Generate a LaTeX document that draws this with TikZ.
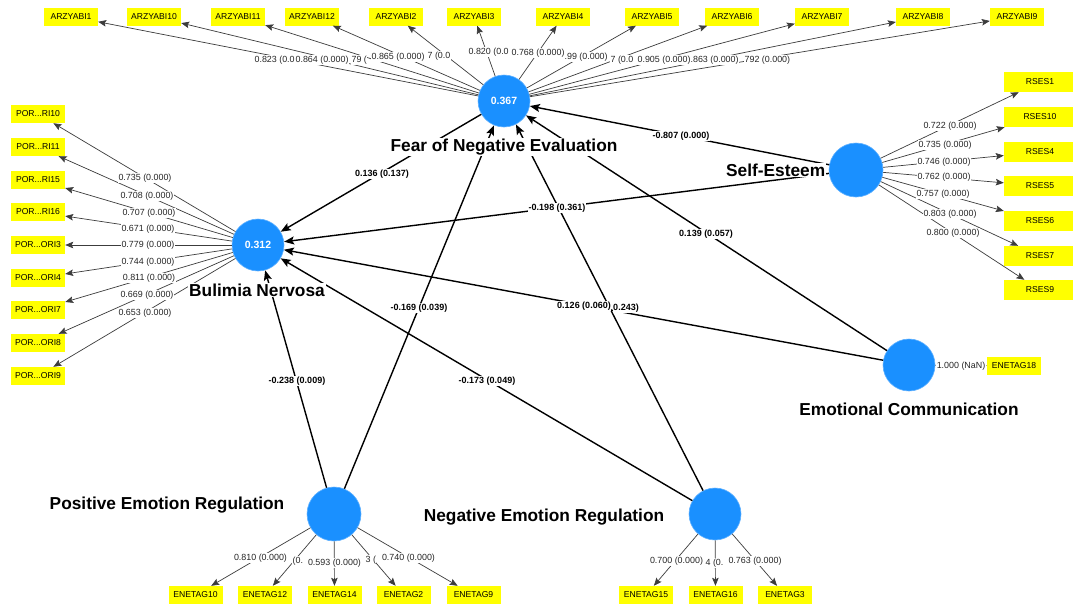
\documentclass[tikz,border=0pt]{standalone}
\usepackage{fontspec}
\setmainfont{Liberation Sans}
\usetikzlibrary{arrows.meta}
\definecolor{lvblue}{RGB}{26,144,255}
\definecolor{lgray}{RGB}{60,60,60}
\definecolor{boxyellow}{RGB}{255,255,0}
\begin{document}
\begin{tikzpicture}[x=1pt,y=-1pt,
  lv/.style={circle, fill=lvblue, draw=lvblue!70!white, line width=0.6pt, minimum size=52pt, inner sep=0pt, text=white, font=\bfseries\fontsize{10.5}{11}\selectfont},
  ind/.style={rectangle, fill=boxyellow, minimum width=54pt, minimum height=18pt, inner sep=0pt, font=\fontsize{8.6}{9}\selectfont},
  ld/.style={draw=lgray, line width=0.7pt, -{Stealth[length=8pt,width=6.5pt,inset=1.5pt]}},
  sp/.style={draw=black, line width=1.4pt, -{Stealth[length=10pt,width=8pt,inset=2pt]}},
  wl/.style={fill=white, inner sep=0.4pt, text=black!85, font=\fontsize{8.9}{9}\selectfont},
  sl/.style={fill=white, inner sep=0.6pt, font=\bfseries\fontsize{9}{9}\selectfont},
  lvname/.style={fill=white, inner sep=1pt, font=\bfseries\fontsize{17.3}{17.5}\selectfont}]
\useasboundingbox (0,0) rectangle (1073,608);
\fill[white] (0,0) rectangle (1073,608);

% latent variables
\node[lv] (fne) at (504,101) {0.367};
\node[lv] (bn) at (258,245) {0.312};
\node[lv, minimum size=54pt] (se) at (856,170) {};
\node[lv] (ec) at (909,365) {};
\node[lv, minimum size=54pt] (per) at (334,514) {};
\node[lv] (ner) at (715,514) {};

% indicators: ARZYABI
\foreach \n/\x/\t in {a1/71/ARZYABI1, a10/154/ARZYABI10, a11/238/ARZYABI11, a12/312/ARZYABI12,
  a2/396/ARZYABI2, a3/474/ARZYABI3, a4/563/ARZYABI4, a5/652/ARZYABI5, a6/732/ARZYABI6,
  a7/822/ARZYABI7, a8/923/ARZYABI8, a9/1017/ARZYABI9}
  {\node[ind] (\n) at (\x,16.5) {\t};
   \draw[ld] (fne) -- (\n);}

% indicators: POR
\foreach \n/\y/\t in {p10/114/POR.{}..RI10, p11/147/POR.{}..RI11, p15/180/POR.{}..RI15, p16/212/POR.{}..RI16,
  p3/245/POR.{}..ORI3, p4/278/POR.{}..ORI4, p7/310/POR.{}..ORI7, p8/343/POR.{}..ORI8, p9/376/POR.{}..ORI9}
  {\node[ind] (\n) at (38,\y) {\t};
   \draw[ld] (bn) -- (\n);}

% indicators: RSES
\foreach \n/\y/\t in {r1/82/RSES1, r10/117/RSES10, r4/152/RSES4, r5/186/RSES5, r6/221/RSES6, r7/256/RSES7, r9/290/RSES9}
  {\node[ind, minimum width=72pt, minimum height=20pt] (\n) at (1040,\y) {\t};
   \draw[ld] (se) -- (\n);}

% indicators: ENETAG (positive)
\foreach \n/\x/\t in {e10/195.5/ENETAG10, e12/265/ENETAG12, e14/334.5/ENETAG14, e2/403.5/ENETAG2, e9/473.5/ENETAG9}
  {\node[ind] (\n) at (\x,595) {\t};
   \draw[ld] (per) -- (\n);}

% indicators: ENETAG (negative)
\foreach \n/\x/\t in {e15/646/ENETAG15, e16/715.5/ENETAG16, e3/785/ENETAG3}
  {\node[ind] (\n) at (\x,595) {\t};
   \draw[ld] (ner) -- (\n);}

% single indicator
\node[ind] (e18) at (1014,366) {ENETAG18};
\draw[ld] (ec) -- (e18);

% structural paths
\draw[sp] (fne) -- (bn);
\draw[sp] (se) -- (fne);
\draw[sp] (se) -- (bn);
\draw[sp] (ec) -- (fne);
\draw[sp] (ec) -- (bn);
\draw[sp] (per) -- (bn);
\draw[sp] (per) -- (fne);
\draw[sp] (ner) -- (bn);
\draw[sp] (ner) -- (fne);

% latent names
\node[lvname] (nfne) at (504,147) {Fear of Negative Evaluation};
\node[lvname] (nbn) at (257,290) {Bulimia Nervosa};
\node[lvname, anchor=west] (nse) at (725,170) {Self-Esteem};
\node[lvname] (nec) at (909,409) {Emotional Communication};
\node[lvname] (nper) at (167,505) {Positive Emotion Regulation};
\node[lvname] (nner) at (544,517) {Negative Emotion Regulation};

% loadings ARZYABI
\node[wl, anchor=west] (la1) at (254,60) {0.823 (0.0};
\node[wl, anchor=west] (la2) at (295,60) {0.864 (0.000)};
\node[wl, anchor=west] (la3) at (351,60) {79 (};
\node[wl, anchor=west] (la4) at (371,57) {0.865 (0.000)};
\node[wl, anchor=west] (la5) at (427,56) {7 (0.0};
\node[wl, anchor=west] (la6) at (468,52) {0.820 (0.0};
\node[wl, anchor=west] (la8) at (564,57) {.99 (0.000)};
\node[wl, anchor=west] (la7) at (511,53) {0.768 (0.000)};
\node[wl, anchor=west] (la9) at (610,60) {7 (0.0};
\node[wl, anchor=west] (la10) at (637,60) {0.905 (0.000)};
\node[wl, anchor=west] (la11) at (690,60) {.863 (0.000)};
\node[wl, anchor=west] (la12) at (744,60) {792 (0.000)};

% loadings POR
\node[wl] (lp1) at (145,178) {0.735 (0.000)};
\node[wl] (lp2) at (147,196) {0.708 (0.000)};
\node[wl] (lp3) at (149,213) {0.707 (0.000)};
\node[wl] (lp4) at (148,229) {0.671 (0.000)};
\node[wl] (lp5) at (148,245) {0.779 (0.000)};
\node[wl] (lp6) at (148,262) {0.744 (0.000)};
\node[wl] (lp7) at (149,278) {0.811 (0.000)};
\node[wl] (lp8) at (147,295) {0.669 (0.000)};
\node[wl] (lp9) at (145,313) {0.653 (0.000)};

% loadings RSES
\node[wl] (lr1) at (950,126) {0.722 (0.000)};
\node[wl] (lr2) at (945,145) {0.735 (0.000)};
\node[wl] (lr3) at (944,162) {0.746 (0.000)};
\node[wl] (lr4) at (944,177) {0.762 (0.000)};
\node[wl] (lr5) at (943,194) {0.757 (0.000)};
\node[wl] (lr6) at (950,214) {0.803 (0.000)};
\node[wl] (lr7) at (953,233) {0.800 (0.000)};

% loadings ENETAG
\node[wl] (le1) at (260.5,558) {0.810 (0.000)};
\node[wl, anchor=west] (le2) at (292,561) {(0.};
\node[wl] (le3) at (334.5,563) {0.593 (0.000)};
\node[wl, anchor=west] (le4) at (365,560) {3 (};
\node[wl] (le5) at (408.5,558) {0.740 (0.000)};
\node[wl] (le6) at (676.5,561) {0.700 (0.000)};
\node[wl, anchor=west] (le7) at (705,563) {4 (0.};
\node[wl] (le8) at (755,561) {0.763 (0.000)};
\node[wl] (le9) at (961,366) {1.000 (NaN)};

% path coefficients
\node[sl] (c1) at (382,174) {0.136 (0.137)};
\node[sl] (c2) at (681,136) {-0.807 (0.000)};
\node[sl] (c3) at (557,208) {-0.198 (0.361)};
\node[sl] (c4) at (706,234) {0.139 (0.057)};
\node[sl] (c5) at (419,308) {-0.169 (0.039)};
\node[sl] (c6) at (626,308) {0.243)};
\node[sl] (c7) at (584,306) {0.126 (0.060)};
\node[sl] (c8) at (297,381) {-0.238 (0.009)};
\node[sl] (c9) at (487,381) {-0.173 (0.049)};
\end{tikzpicture}
\end{document}
